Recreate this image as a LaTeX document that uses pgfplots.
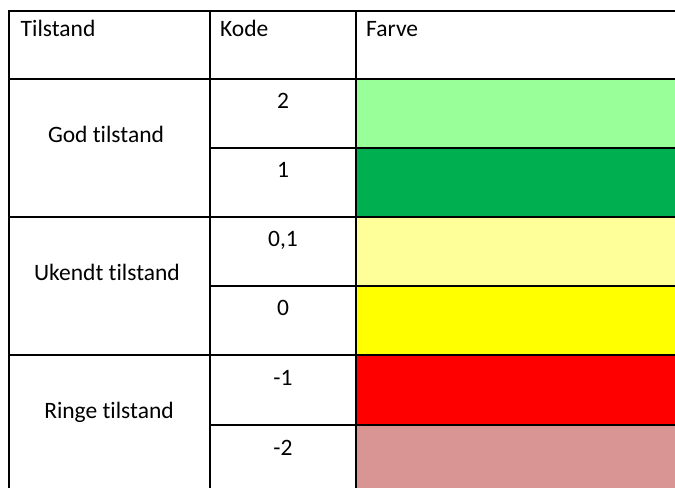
\documentclass[border=0pt]{standalone}
\usepackage{pgfplots}
\pgfplotsset{compat=1.18}
\usepackage{fontspec}
\setmainfont{Carlito}[Ligatures={NoCommon}]
\definecolor{cLightGreen}{HTML}{99FF99}
\definecolor{cGreen}{HTML}{00B050}
\definecolor{cLightYellow}{HTML}{FFFF99}
\definecolor{cYellow}{HTML}{FFFF00}
\definecolor{cRed}{HTML}{FF0000}
\definecolor{cRose}{HTML}{D99594}
\tikzset{
  cell/.style={font=\fontsize{23.5}{28}\selectfont, inner sep=0pt, text=black},
  grid line/.style={black, line width=2.4pt, line cap=butt},
}
\begin{document}
\begin{tikzpicture}
\begin{axis}[
  scale only axis, width=675pt, height=488pt,
  xmin=0, xmax=675, ymin=0, ymax=488, y dir=reverse,
  axis lines=none, xtick=\empty, ytick=\empty,
  enlargelimits=false, clip=true,
]
% background
\addplot[fill=white, draw=none] coordinates {(0,0) (675,0) (675,488) (0,488)} --cycle;
% colour cells
\addplot[fill=cLightGreen, draw=none] coordinates {(356,79) (675,79) (675,148) (356,148)} --cycle;
\addplot[fill=cGreen, draw=none] coordinates {(356,148) (675,148) (675,217) (356,217)} --cycle;
\addplot[fill=cLightYellow, draw=none] coordinates {(356,217) (675,217) (675,286) (356,286)} --cycle;
\addplot[fill=cYellow, draw=none] coordinates {(356,286) (675,286) (675,355) (356,355)} --cycle;
\addplot[fill=cRed, draw=none] coordinates {(356,355) (675,355) (675,425) (356,425)} --cycle;
\addplot[fill=cRose, draw=none] coordinates {(356,425) (675,425) (675,488) (356,488)} --cycle;
% grid lines
\addplot[grid line] coordinates {(7.8,11) (675,11)};
\addplot[grid line] coordinates {(9,9.8) (9,488)};
\addplot[grid line] coordinates {(210,11) (210,488)};
\addplot[grid line] coordinates {(356,11) (356,488)};
\addplot[grid line] coordinates {(9,79) (675,79)};
\addplot[grid line] coordinates {(210,148) (675,148)};
\addplot[grid line] coordinates {(9,217) (675,217)};
\addplot[grid line] coordinates {(210,286) (675,286)};
\addplot[grid line] coordinates {(9,355) (675,355)};
\addplot[grid line] coordinates {(210,425) (675,425)};
% header
\node[cell, anchor=base west] at (axis cs:20.5,36.7) {Tilstand};
\node[cell, anchor=base west] at (axis cs:220,36.7) {Kode};
\node[cell, anchor=base west] at (axis cs:366,36.7) {Farve};
% merged labels
\node[cell, anchor=base] at (axis cs:106,142) {God tilstand};
\node[cell, anchor=base] at (axis cs:107,280) {Ukendt tilstand};
\node[cell, anchor=base] at (axis cs:109,418) {Ringe tilstand};
% codes
\node[cell, anchor=base] at (axis cs:283,108) {2};
\node[cell, anchor=base] at (axis cs:283,177) {1};
\node[cell, anchor=base] at (axis cs:283,246) {0,1};
\node[cell, anchor=base] at (axis cs:283,315) {0};
\node[cell, anchor=base] at (axis cs:283,385) {-1};
\node[cell, anchor=base] at (axis cs:283,455) {-2};
\end{axis}
\end{tikzpicture}
\end{document}
